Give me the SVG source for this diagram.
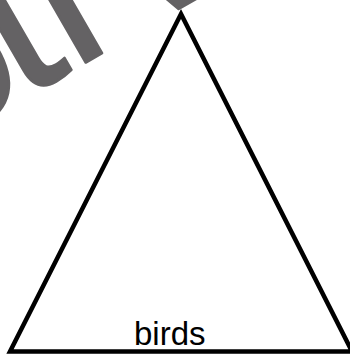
<svg xmlns="http://www.w3.org/2000/svg" width="350" height="358" viewBox="0 0 350 358">
<style>
.wm{font-family:"Liberation Sans",Arial,sans-serif;font-size:215px;fill:#646264;stroke:#646264;stroke-width:2.5;stroke-linejoin:round}
.lbl{font-family:"Liberation Sans",Arial,sans-serif;font-size:33px;fill:#000}
.tri{fill:#fff;stroke:#000;stroke-width:4.5;stroke-linejoin:miter}
</style>
<rect width="350" height="358" fill="#fff"/>
<g id="watermark">
<text class="wm" transform="translate(85,63) rotate(-30)"><tspan x="-179">o</tspan><tspan x="-73.4">ti</tspan><tspan x="66">ve</tspan></text>
</g>
<g id="connectors"></g>
<g id="triangle">
<polygon class="tri" points="181,14 10,351.5 352,351.5"/>
<text class="lbl" x="134" y="345">birds</text>
</g>
</svg>
